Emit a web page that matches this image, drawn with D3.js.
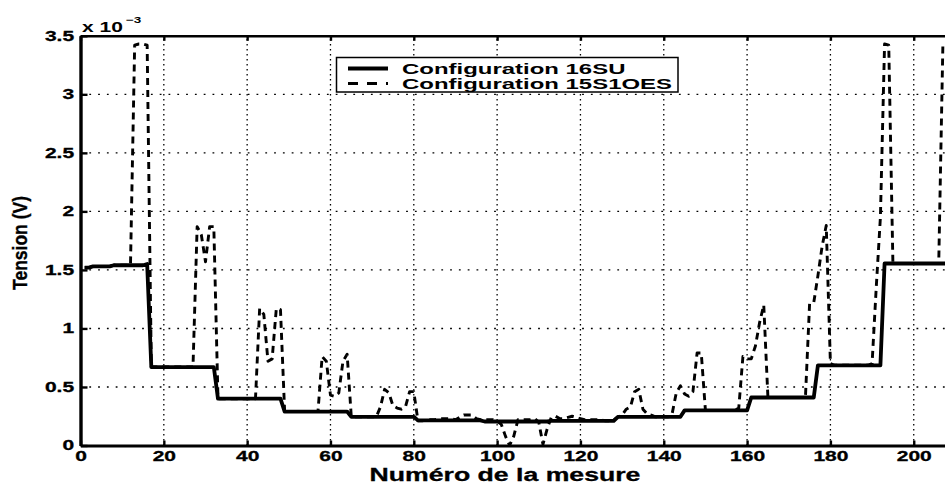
<!DOCTYPE html>
<html><head><meta charset="utf-8">
<script src="https://cdn.jsdelivr.net/npm/d3@7"></script>
<style>
body{margin:0;background:#fff}
svg{display:block;background:#fff}
text{font-family:"Liberation Sans",Arial,Helvetica,sans-serif;font-weight:bold;fill:#000}
</style>
</head><body>
<svg id="c" width="945" height="486"></svg>
<script>
// ---------- data ----------
const mesures = d3.range(1, 209); // measurement numbers 1..208

const config16SU = [
  1.52,1.52,1.53,1.53,1.53,1.53,1.53,1.54,1.54,1.54,1.54,1.54,1.54,1.54,1.54,1.55,
  0.67,0.67,0.67,0.67,0.67,0.67,0.67,0.67,0.67,0.67,0.67,0.67,0.67,0.67,0.67,0.67,
  0.40,0.40,0.40,0.40,0.40,0.40,0.40,0.40,0.40,0.40,0.40,0.40,0.40,0.40,0.40,0.40,
  0.29,0.29,0.29,0.29,0.29,0.29,0.29,0.29,0.29,0.29,0.29,0.29,0.29,0.29,0.29,0.29,
  0.245,0.245,0.245,0.245,0.245,0.245,0.245,0.245,0.245,0.245,0.245,0.245,0.245,0.245,0.245,0.245,
  0.215,0.215,0.215,0.215,0.215,0.215,0.215,0.215,0.215,0.215,0.215,0.215,0.215,0.215,0.215,0.215,
  0.205,0.205,0.205,0.205,0.205,0.205,0.205,0.205,0.205,0.205,0.205,0.205,0.205,0.205,0.205,0.205,
  0.21,0.21,0.21,0.21,0.21,0.21,0.21,0.21,0.21,0.21,0.21,0.21,0.21,0.21,0.21,0.21,
  0.245,0.245,0.245,0.245,0.245,0.245,0.245,0.245,0.245,0.245,0.245,0.245,0.245,0.245,0.245,0.245,
  0.30,0.30,0.30,0.30,0.30,0.30,0.30,0.30,0.30,0.30,0.30,0.30,0.30,0.30,0.30,0.30,
  0.41,0.41,0.41,0.41,0.41,0.41,0.41,0.41,0.41,0.41,0.41,0.41,0.41,0.41,0.41,0.41,
  0.685,0.685,0.685,0.685,0.685,0.685,0.685,0.685,0.685,0.685,0.685,0.685,0.685,0.685,0.685,0.685,
  1.555,1.555,1.555,1.555,1.555,1.555,1.555,1.555,1.555,1.555,1.555,1.555,1.555,1.555,1.555,1.555
];

const config15S1OES = [
  1.52,1.52,1.53,1.53,1.53,1.53,1.53,1.54,1.54,1.54,1.54,1.54,
  3.42,3.43,3.43,3.42,
  0.67,0.67,0.67,0.67,0.67,0.67,0.67,0.67,0.67,0.67,0.67,
  1.87,1.80,1.57,1.87,1.87,
  0.40,0.40,0.40,0.40,0.40,0.40,0.40,0.40,0.40,0.40,
  1.17,1.12,0.72,0.74,1.17,1.16,
  0.29,0.29,0.29,0.29,0.29,0.29,0.29,0.29,0.29,
  0.76,0.72,0.43,0.42,0.45,0.72,0.78,
  0.245,0.245,0.245,0.245,0.245,0.245,0.245,
  0.33,0.48,0.45,0.34,0.32,0.31,0.33,0.46,0.46,
  0.21,0.21,0.22,0.22,0.22,0.23,0.23,0.23,0.23,0.22,0.24,0.26,0.26,0.26,0.23,0.22,0.22,0.22,0.22,0.21,
  0.18,0.08,0.0,0.08,0.22,
  0.22,0.22,0.22,0.23,0.20,0.01,0.14,0.24,
  0.25,0.23,0.23,0.24,0.25,0.24,0.23,0.22,0.22,0.22,0.22,0.22,0.21,0.21,0.22,
  0.245,0.26,0.31,0.33,0.46,0.48,0.31,0.27,0.26,0.245,0.245,0.245,0.245,
  0.27,0.45,0.51,0.44,0.42,0.46,0.79,0.79,0.30,
  0.30,0.30,0.30,0.30,0.30,0.30,0.30,0.32,
  0.76,0.74,0.74,0.85,1.05,1.20,0.41,
  0.41,0.41,0.41,0.41,0.41,0.41,0.41,0.41,0.41,
  1.21,1.22,1.45,1.70,1.88,0.70,
  0.685,0.685,0.685,0.685,0.685,0.685,0.685,0.685,0.685,0.70,
  1.35,1.95,3.43,3.42,1.56,
  1.555,1.555,1.555,1.555,1.555,1.555,1.555,1.555,1.555,1.555,1.555,
  3.43,3.43
];

const xTicks = [0,20,40,60,80,100,120,140,160,180,200];
const yTicks = [0,0.5,1,1.5,2,2.5,3,3.5];
const yTickLabels = ["0","0.5","1","1.5","2","2.5","3","3.5"];
const seriesNames = ["Configuration 16SU","Configuration 15S1OES"];
const xTitle = "Numéro de la mesure";
const yTitle = "Tension (V)";
const scaleLabel = "x 10";
const scaleExp = "\u22123";

// ---------- layout ----------
const svg = d3.select("#c");
const x = d3.scaleLinear().domain([0,210]).range([80.5, 955.4]);
const y = d3.scaleLinear().domain([0,3.5]).range([445.5, 35.8]);
const SX = 1.5; // horizontal stretch of the typography

// grid
const grid = svg.append("g");
grid.selectAll("line.h").data(yTicks.filter(d => d > 0 && d < 3.5)).join("line")
  .attr("x1", x(0)).attr("x2", x(210)).attr("y1", d => y(d)).attr("y2", d => y(d))
  .attr("stroke", "#000").attr("stroke-width", 1.4).attr("stroke-dasharray", "1.8,7");
grid.selectAll("line.v").data(xTicks.filter(d => d > 0)).join("line")
  .attr("x1", d => x(d)).attr("x2", d => x(d)).attr("y1", y(0)).attr("y2", y(3.5))
  .attr("stroke", "#000").attr("stroke-width", 1.3).attr("stroke-dasharray", "1.5,3.5");

// series
const line = d3.line().x((d, i) => x(mesures[i])).y(d => y(d));
svg.append("path").datum(config15S1OES).attr("d", line)
  .attr("fill", "none").attr("stroke", "#000").attr("stroke-width", 2.9)
  .attr("stroke-dasharray", "7,5").attr("stroke-linejoin", "round");
svg.append("path").datum(config16SU).attr("d", line)
  .attr("fill", "none").attr("stroke", "#000").attr("stroke-width", 3.8)
  .attr("stroke-linejoin", "round");

// axes
function styleAxis(g, fs) {
  g.attr("font-family", null).attr("font-size", null);
  g.selectAll(".tick line").attr("stroke", "#000").attr("stroke-width", 2.4);
  g.selectAll("text").attr("font-size", fs).attr("fill", "#000")
    .attr("stroke", "#000").attr("stroke-width", 0.3)
    .attr("transform", `scale(${SX},1)`);
}
const gx = svg.append("g").attr("transform", `translate(0,${y(0)})`)
  .call(d3.axisBottom(x).tickValues(xTicks).tickSize(-5).tickSizeOuter(0).tickPadding(6));
styleAxis(gx, 14);
gx.select(".domain").attr("stroke", "#000").attr("stroke-width", 3.2);

const gt = svg.append("g").attr("transform", `translate(0,${y(3.5)})`)
  .call(d3.axisTop(x).tickValues(xTicks).tickSize(-5).tickSizeOuter(0).tickFormat(""));
styleAxis(gt, 14);
gt.select(".domain").attr("stroke", "#000").attr("stroke-width", 2.6);

const gy = svg.append("g").attr("transform", `translate(${x(0)},0)`)
  .call(d3.axisLeft(y).tickValues(yTicks).tickFormat((d, i) => yTickLabels[i])
    .tickSize(-7).tickSizeOuter(0).tickPadding(4.3));
styleAxis(gy, 14);
gy.select(".domain").attr("stroke", "#000").attr("stroke-width", 3.4);

// axis titles
svg.append("g").attr("transform", `translate(505,481) scale(1.48,1)`)
  .append("text").attr("text-anchor", "middle").attr("font-size", 18)
  .attr("stroke", "#000").attr("stroke-width", 0.3).text(xTitle);
svg.append("text").attr("transform", "translate(27,243) scale(1.2,1) rotate(-90)")
  .attr("text-anchor", "middle").attr("font-size", 17)
  .attr("stroke", "#000").attr("stroke-width", 0.3)
  .attr("textLength", 94).attr("lengthAdjust", "spacingAndGlyphs").text(yTitle);

// multiplier
const mult = svg.append("g").attr("transform", `translate(82,32) scale(${SX},1)`)
  .append("text").attr("font-size", 14);
mult.append("tspan").text(scaleLabel);
mult.append("tspan").attr("font-size", 9).attr("dx", 2).attr("dy", -9).text(scaleExp);

// legend
const lg = svg.append("g");
lg.append("rect").attr("x", 336.5).attr("y", 57.5).attr("width", 341.5).attr("height", 34.5)
  .attr("fill", "#fff").attr("stroke", "#000").attr("stroke-width", 1.5);
const rows = [{name: seriesNames[0], dash: null, w: 3.8, ly: 68.5, ty: 73.5},
              {name: seriesNames[1], dash: "10,9", w: 2.9, ly: 83.5, ty: 89}];
rows.forEach(r => {
  lg.append("line").attr("x1", 348).attr("x2", 388).attr("y1", r.ly).attr("y2", r.ly)
    .attr("stroke", "#000").attr("stroke-width", r.w).attr("stroke-dasharray", r.dash);
  lg.append("g").attr("transform", `translate(402,${r.ty}) scale(1.71,1)`)
    .append("text").attr("font-size", 14).text(r.name);
});
</script>
</body></html>
